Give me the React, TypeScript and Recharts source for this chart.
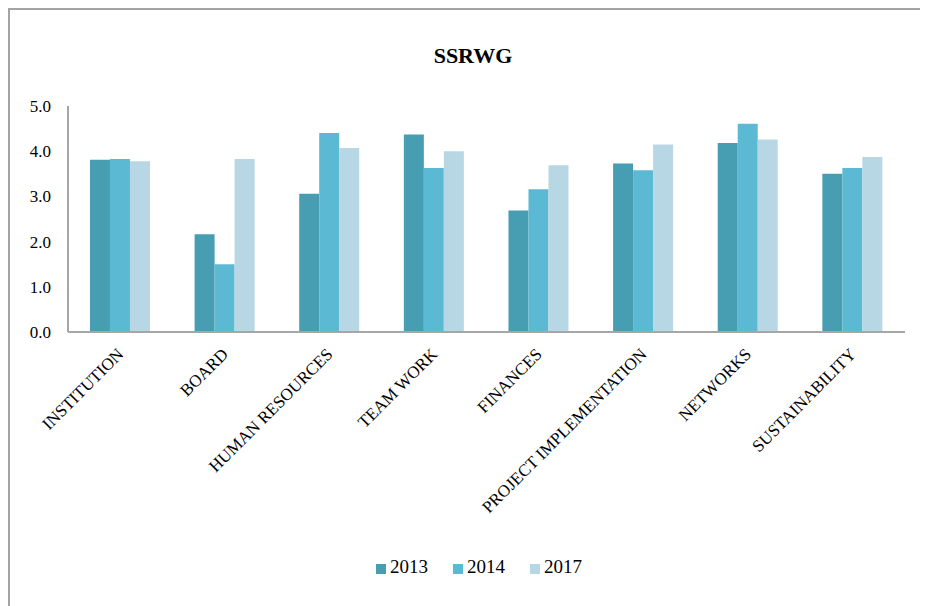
import {Bar, BarChart, Legend, XAxis, YAxis} from "recharts";

const categories = [
    "INSTITUTION",
    "BOARD",
    "HUMAN RESOURCES",
    "TEAM WORK",
    "FINANCES",
    "PROJECT IMPLEMENTATION",
    "NETWORKS",
    "SUSTAINABILITY",
];
const values2013 = [3.81, 2.16, 3.06, 4.37, 2.69, 3.73, 4.18, 3.50];
const values2014 = [3.83, 1.50, 4.40, 3.63, 3.16, 3.58, 4.61, 3.63];
const values2017 = [3.78, 3.83, 4.07, 4.00, 3.69, 4.15, 4.26, 3.87];
const yTicks = [0, 1, 2, 3, 4, 5];

const COLORS = {
    y2013: "#479eb3",
    y2014: "#5cb9d3",
    y2017: "#b7d7e4",
};

const FONT = "'Liberation Serif', 'Times New Roman', serif";

const chartData = categories.map((name, i) => ({
    name,
    y2013: values2013[i],
    y2014: values2014[i],
    y2017: values2017[i],
}));

function AngledTick({x, y, payload}: {x?: number; y?: number; payload?: {value: string}}) {
    return (
        <g transform={`translate(${x},${(y ?? 0) + 11})`}>
            <text
                x={0}
                y={0}
                dy="0.35em"
                textAnchor="end"
                transform="rotate(-45)"
                fontSize={17}
                fontFamily={FONT}
                fill="#000"
            >
                {payload?.value}
            </text>
        </g>
    );
}

function App() {
    return (
        <div
            style={{
                position: "relative",
                width: 920,
                height: 598,
                borderLeft: "2px solid #a3a3a3",
                borderTop: "2px solid #a3a3a3",
                boxSizing: "border-box",
                background: "#fff",
                fontFamily: FONT,
                overflow: "hidden",
            }}
        >
            <div
                style={{
                    position: "absolute",
                    top: 33,
                    left: 0,
                    width: 926,
                    textAlign: "center",
                    fontSize: 22,
                    fontWeight: "bold",
                    color: "#000",
                }}
            >
                SSRWG
            </div>
            <BarChart
                width={918}
                height={596}
                data={chartData}
                margin={{top: 96, right: 23, left: 0, bottom: 28}}
                barCategoryGap="21%"
                barGap={0}
            >
                <XAxis
                    dataKey="name"
                    interval={0}
                    tickLine={false}
                    height={224}
                    stroke="#a6a6a6"
                    strokeWidth={2}
                    tick={<AngledTick />}
                />
                <YAxis
                    domain={[0, 5]}
                    ticks={yTicks}
                    width={58}
                    tickLine={false}
                    tickSize={0}
                    tickMargin={17}
                    stroke="#a6a6a6"
                    strokeWidth={2}
                    tickFormatter={(v: number) => v.toFixed(1)}
                    tick={{fill: "#000", fontSize: 17, fontFamily: FONT}}
                />
                <Legend
                    verticalAlign="bottom"
                    align="center"
                    iconType="square"
                    iconSize={10}
                    wrapperStyle={{fontSize: 19, fontFamily: FONT, color: "#000", paddingLeft: 34}}
                    formatter={(value: string) => (
                        <span style={{color: "#000", marginRight: 15}}>{value}</span>
                    )}
                />
                <Bar dataKey="y2013" name="2013" fill={COLORS.y2013} isAnimationActive={false} />
                <Bar dataKey="y2014" name="2014" fill={COLORS.y2014} isAnimationActive={false} />
                <Bar dataKey="y2017" name="2017" fill={COLORS.y2017} isAnimationActive={false} />
            </BarChart>
        </div>
    );
}

export default App;
